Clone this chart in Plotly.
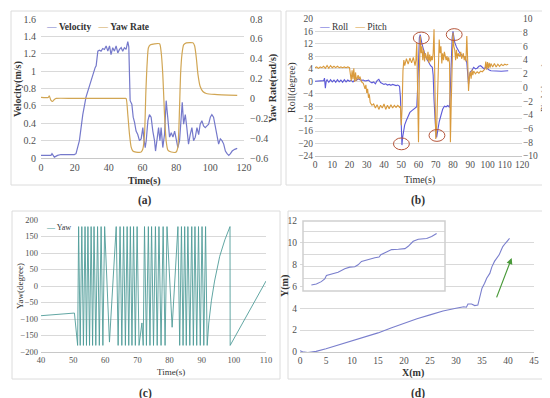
import plotly.graph_objects as go

# ---------------- data ----------------
# (a) velocity / yaw rate
vel_t = [0, 5.9, 6.5, 7.9, 9.8, 11.8, 19.7, 20.7, 22.7, 24.7, 26.6, 28.6, 30.6, 32, 32.6, 33.6, 34.5, 35.5, 36.5, 37.5,
         38.5, 39.5, 40.5, 41.4, 42.4, 43.4, 44.4, 45.4, 46.4, 47.4, 48.3, 49.3, 50.3, 51.3, 51.9, 52.7, 53.7, 54.5,
         55.3, 56.2, 57.2, 58.2, 59.2, 60.2, 60.8, 61.6, 62.2, 63.2, 64.1, 65.1, 66.1, 67.1, 67.7, 68.5, 69.5, 70.3,
         71, 72, 73, 74, 75, 76, 77, 78, 79, 79.9, 80.9, 81.9, 82.9, 83.5, 84.3, 85.3, 86.2, 87.2, 88.2, 89.2, 90.2,
         91.2, 92.2, 93.2, 94.1, 95.1, 96.1, 97.1, 98.1, 99.1, 100.1, 101, 102, 103, 104, 105, 106, 107, 108, 109,
         110, 111, 112, 113, 114.5, 116]
vel_v = [0.03, 0.03, 0.05, 0.01, 0.03, 0.04, 0.04, 0.05, 0.2, 0.5, 0.7, 0.83, 0.96, 1.04, 1.06, 1.23, 1.24, 1.23, 1.26, 1.25,
         1.29, 1.23, 1.29, 1.19, 1.27, 1.23, 1.29, 1.21, 1.25, 1.27, 1.23, 1.27, 1.25, 1.34, 1.28, 0.66, 0.62, 0.47,
         0.41, 0.31, 0.27, 0.2, 0.22, 0.35, 0.22, 0.12, 0.2, 0.43, 0.5, 0.47, 0.31, 0.2, 0.08, 0.2, 0.35, 0.2,
         0.35, 0.12, 0.27, 0.66, 0.39, 0.24, 0.29, 0.24, 0.31, 0.2, 0.12, 0.2, 0.47, 0.64, 0.39, 0.5, 0.35, 0.16, 0.27,
         0.35, 0.2, 0.24, 0.35, 0.27, 0.39, 0.43, 0.37, 0.35, 0.37, 0.39, 0.47, 0.5, 0.47, 0.35, 0.24, 0.16, 0.22, 0.2,
         0.16, 0.08, 0.05, 0.03, 0.05, 0.08, 0.1, 0.11]
yr_t = [0, 4.3, 4.9, 5.9, 6.9, 7.9, 9, 19.7, 49.3, 50.3, 51.3, 52.3, 53.3, 54.3, 56.2, 59.2, 60.2, 61.2, 62, 62.8, 63.5,
        64.7, 67.1, 70.1, 71, 72, 73, 74, 75, 77, 79.9, 80.9, 81.9, 82.5, 83.3, 84.3, 85.9, 89.8, 90.8, 91.8, 92.8,
        94.1, 95.7, 97.7, 102.6, 116]
yr_v = [0.01, 0.01, 0.025, -0.02, -0.03, -0.01, 0, 0, 0, 0, -0.16, -0.36, -0.49, -0.53, -0.54, -0.54, -0.51, -0.36, 0.07,
        0.37, 0.51, 0.54, 0.55, 0.55, 0.47, 0.24, -0.16, -0.43, -0.52, -0.54, -0.54, -0.49, -0.09, 0.24, 0.44, 0.54,
        0.56, 0.56, 0.53, 0.41, 0.24, 0.12, 0.07, 0.05, 0.04, 0.03]

# (b) roll / pitch
roll_t = [0, 2, 4, 5, 5.5, 6, 6.5, 7, 8, 9, 10, 11, 12, 13, 14, 15, 16, 17, 18, 19, 20, 21, 22, 23, 24, 25, 26, 27, 28,
          29, 30, 31, 32, 33, 34, 35, 36, 37, 38, 39, 40, 41, 42, 43, 44, 45, 46, 47, 48, 49, 49.5, 50, 50.4, 50.8,
          51.5, 52, 53, 54, 55, 56, 57, 58, 59, 59.5, 60, 60.5, 61, 61.5, 62, 63, 64, 65, 66, 67, 68, 68.5, 69, 69.5,
          70, 70.5, 71, 72, 73, 74, 75, 76, 77, 78, 78.5, 79, 79.5, 80, 80.5, 81, 82, 83, 84, 85, 86, 87, 88, 88.5,
          89, 89.5, 90, 91, 92, 93, 94, 95, 96, 97, 98, 99, 100, 101, 102, 104, 106, 108, 110, 112]
roll_v = [0, 0, 0, 0.2, 1.0, -2.2, 0, 0.5, -0.3, 0.5, -0.2, 0.4, -0.3, 0.5, -0.2, 0.4, -0.3, 0.5, -0.2, 0.4, 0, 0.3,
          -0.2, 0.4, 0.3, 0.8, 0.5, 0.3, 0.4, 0.1, 0.2, 0.4, -0.2, -0.5, -0.2, -0.8, 0.2, 0.6, -0.4, -0.8, -1.0, -0.8,
          -1.2, -1.0, -1.3, -1.0, -1.2, -1.4, -1.2, -1.6, -5, -17, -20.5, -18, -16, -14, -12.5, -11, -10, -9.5, -9,
          -8.6, -8.2, -2, 8, 14, 15, 13, 12, 10, 8, 7, 6, 5, 4.5, 2, -6, -12, -16, -18, -16, -13, -11, -9, -8, -8.2,
          -7.8, -8.4, -2, 8, 14, 16, 14, 12.5, 11, 10, 9, 8.5, 8, 7.5, 6, 3, -1, 1.5, 3, 3.5, 4.5, 4, 4.2, 4.8, 5,
          4.5, 4, 4.5, 4, 3.6, 3.4, 3.3, 3.3, 3.2, 3.3, 3.4]
pitch_t = [0, 1, 2, 3, 4, 5, 6, 7, 8, 9, 10, 11, 12, 13, 14, 15, 16, 17, 18, 19, 20, 21, 21.5, 22, 22.5, 23, 23.5, 24,
           25, 25.5, 26, 27, 28, 29, 29.5, 30, 30.5, 31, 31.5, 32, 33, 34, 35, 36, 37, 38, 39, 40, 41, 42, 43, 44, 45,
           46, 47, 48, 49, 49.5, 50, 50.5, 51, 51.5, 52, 53, 54, 55, 56, 57, 58, 58.5, 59, 59.5, 60, 60.5, 61, 61.5,
           62, 62.5, 63, 63.5, 64, 65, 65.5, 66, 66.5, 67, 67.5, 68, 68.5, 69, 69.5, 70, 70.5, 71, 71.5, 72, 72.5, 73,
           73.5, 74, 74.5, 75, 76, 76.5, 77, 77.5, 78, 78.5, 79, 79.5, 80, 80.5, 81, 81.5, 82, 82.5, 83, 84, 84.5, 85,
           86, 86.5, 87, 87.5, 88, 88.5, 89, 89.5, 90, 90.5, 91, 91.5, 92, 93, 94, 95, 96, 97, 98, 98.5, 99, 99.5,
           100, 100.5, 101, 101.5, 102, 103, 104, 105, 106, 107, 108, 109, 110, 111, 112]
pitch_v = [2.9, 3.0, 2.8, 3.0, 2.9, 3.1, 2.8, 3.2, 2.8, 3.2, 2.9, 3.1, 2.9, 3.1, 2.9, 3.0, 2.9, 3.0, 2.9, 3.0, 2.9, 1.0,
           2.5, 1.2, 2.8, 0.8, 2.2, 1.0, 1.8, 1.2, 1.6, 0.8, 0.6, -0.2, 0.4, -0.8, -0.2, -1.5, -1.0, -2.2, -2.6, -2.4,
           -3.0, -2.5, -3.2, -2.6, -3.0, -2.4, -3.2, -2.6, -3.1, -2.5, -3.0, -2.6, -2.9, -2.6, -2.9, -2.7, -5.5, -3.0,
           2.5, 4.0, 3.2, 4.2, 3.4, 4.3, 3.6, 4.4, 3.2, 4.0, 6.5, -2, -8.0, 2, 7.5, 5.0, 6.0, 4.0, 5.5, 3.8, 5.0, 4.0,
           5.2, 3.6, 4.8, 3.8, 4.6, 4.0, 5.0, 8.5, 2, -7.5, -6.0, -2.0, 3.0, 7.0, 5.0, 6.0, 3.5, 5.0, 4.0, 5.2, 4.0,
           4.6, 3.8, 4.4, 3.5, -8.0, -2, 6, 8.0, 6.0, 5.5, 4.0, 5.5, 4.2, 5.0, 4.5, 5.2, 4.2, 5.0, 4.0, 4.6, 3.8, 7.5,
           4, -0.5, 1.5, 2.3, 1.3, 2.6, 1.8, 2.4, 2.0, 2.3, 2.1, 2.4, 2.3, 2.5, 2.7, 3.8, 2.6, 3.7, 2.8, 3.6, 2.9, 3.5,
           3.0, 3.5, 3.0, 3.4, 3.1, 3.4, 3.2, 3.4, 3.3, 3.4]
circle_t = [50.1, 61.6, 70.7, 80.7]
circle_v = [-20.1, 13.9, -17.4, 15.0]

# (c) yaw
yaw_t = [40, 45, 50.4, 51.4, 51.7, 52.2, 52.7, 53.2, 53.7, 54.15, 54.6, 55.1, 55.6, 56.05, 56.5, 57.05, 57.6, 58.15,
         58.7, 59.25, 59.8, 61.3, 63.4, 64.0, 64.6, 65.15, 65.7, 66.25, 66.8, 67.3, 67.8, 68.3, 68.8, 69.35, 69.9,
         70.5, 71.4, 71.8, 72.2, 72.8, 73.4, 73.9, 74.4, 75.0, 75.6, 76.15, 76.7, 77.35, 78.0, 78.6, 79.2, 80.8, 82.6,
         83.15, 83.7, 84.2, 84.7, 85.2, 85.7, 86.3, 86.9, 87.4, 87.9, 88.45, 89.0, 89.55, 90.1, 90.65, 91.2, 91.7,
         92.2, 93.0, 94.0, 95.6, 97.2, 98.8, 98.85, 110]
yaw_deg = [-90, -86, -82, -180, 180, -180, 180, -180, 180, -180, 180, -180, 180, -180, 180, -180, 180, -180, 180, -180,
           180, -170, 180, -180, 180, -180, 180, -180, 180, -180, 180, -180, 180, -180, 180, -180, -112, -180, 180,
           -180, 180, -180, 180, -180, 180, -180, 180, -180, 180, -180, 180, -125, 180, -180, 180, -180, 180, -180,
           180, -180, 180, -180, 180, -180, 180, -180, 180, -180, 180, -180, -112, -45, 15, 90, 140, 180, -180, 15]

# (d) trajectory
traj_x = [0, 0.5, 1.5, 3.1, 5, 6.9, 8.5, 10, 12, 15, 17.5, 20, 22.5, 25, 27.5, 30, 31.5, 32, 32.3, 33, 33.6, 34.2,
          34.5, 35, 35.5, 35.9, 36.5, 36.9, 37.4, 37.8, 38.3, 38.7, 39, 39.5, 40, 40.3]
traj_y = [0.12, 0.02, -0.05, 0.06, 0.3, 0.58, 0.8, 1.0, 1.3, 1.75, 2.2, 2.65, 3.05, 3.4, 3.75, 4.0, 4.15, 4.1, 4.4,
          4.4, 4.25, 4.3, 4.8, 5.85, 6.3, 6.76, 7.2, 7.8, 8.3, 8.6, 8.9, 9.35, 9.66, 9.96, 10.3, 10.4]
inset_x = [5.9, 9.4, 12.9, 15.3, 16.5, 20.0, 24.7, 29.4, 32.9, 36.5, 38.8, 41.2, 45.9, 50.6, 53.6, 54.8, 58.8, 62.4,
           67.1, 71.8, 74.1, 77.6, 81.2, 87.1, 90.6, 94.1]
inset_y = [0.43, 0.51, 0.71, 0.94, 1.23, 1.34, 1.51, 1.8, 1.94, 1.97, 2.14, 2.43, 2.6, 2.74, 2.8, 3.0, 3.23, 3.43,
           3.46, 3.51, 3.71, 4.14, 4.31, 4.37, 4.54, 4.8]
arrow_x = [37.7, 40.7]
arrow_y = [4.87, 8.6]

# ---------------- style ----------------
W, H = 550, 398
SERIF = "Liberation Serif, Times New Roman, serif"
C_VEL, C_YR = "#7579cb", "#d1a654"
C_ROLL, C_PITCH = "#5d5ad8", "#d99a3c"
C_YAW, C_TRAJ = "#4f9c98", "#7a7fcd"
GRID = "#d9d9d9"
TICKC = "#505050"
TITLEC = "#333333"


def px(x):
    return x / W


def py(y):
    return 1 - y / H


fig = go.Figure()
fig.add_trace(go.Scatter(x=vel_t, y=vel_v, mode="lines", line=dict(color=C_VEL, width=1.2), xaxis="x", yaxis="y"))
fig.add_trace(go.Scatter(x=yr_t, y=yr_v, mode="lines", line=dict(color=C_YR, width=1.2, shape="spline", smoothing=0.6),
                         xaxis="x", yaxis="y2"))
fig.add_trace(go.Scatter(x=roll_t, y=roll_v, mode="lines", line=dict(color=C_ROLL, width=1.1), xaxis="x2", yaxis="y3"))
fig.add_trace(go.Scatter(x=pitch_t, y=pitch_v, mode="lines", line=dict(color=C_PITCH, width=1.1), xaxis="x2", yaxis="y4"))
fig.add_trace(go.Scatter(x=yaw_t, y=yaw_deg, mode="lines", line=dict(color=C_YAW, width=0.9), xaxis="x3", yaxis="y5"))
fig.add_trace(go.Scatter(x=traj_x, y=traj_y, mode="lines", line=dict(color=C_TRAJ, width=1.1), xaxis="x4", yaxis="y6"))
fig.add_trace(go.Scatter(x=inset_x, y=inset_y, mode="lines", line=dict(color=C_TRAJ, width=1.1), xaxis="x5", yaxis="y7"))


def xax(dom, rng, dtick, anchor, size=10):
    return dict(domain=dom, range=rng, dtick=dtick, anchor=anchor, showgrid=False, zeroline=False,
                showline=True, linecolor="#c8c8c8", linewidth=1, ticks="",
                tickfont=dict(family=SERIF, size=size, color=TICKC), automargin=False, fixedrange=True)


def yax(dom, rng, dtick, anchor, size=10, side="left", grid=True, overlay=None, standoff=0):
    d = dict(range=rng, dtick=dtick, anchor=anchor, showgrid=grid, gridcolor=GRID, gridwidth=1, zeroline=False,
             showline=False, ticks="", tickfont=dict(family=SERIF, size=size, color=TICKC), automargin=False,
             side=side, fixedrange=True, ticklabelstandoff=standoff)
    if overlay:
        d["overlaying"] = overlay
    else:
        d["domain"] = dom
    return d


layout = dict(
    width=W, height=H, margin=dict(l=0, r=0, t=0, b=0), paper_bgcolor="white", plot_bgcolor="white",
    showlegend=False,
    xaxis=xax([px(33), px(236)], [0, 120], 20, "y"),
    yaxis=yax([py(150), py(11)], [0, 1.6], 0.2, "x", standoff=4),
    yaxis2=yax(None, [-0.6, 0.8], 0.2, "x", side="right", grid=False, overlay="y", standoff=5),
    xaxis2=xax([px(307), px(514)], [0, 120], 10, "y3", size=9.5),
    yaxis3=yax([py(148), py(11)], [-24, 20], 4, "x2", size=9.5, standoff=1),
    yaxis4=yax(None, [-10, 10], 2, "x2", size=9.5, side="right", grid=False, overlay="y3"),
    xaxis3=xax([px(33), px(258)], [40, 110], 10, "y5", size=8.5),
    yaxis5=yax([py(344), py(212)], [-200, 200], 50, "x3", size=8.5, standoff=2),
    xaxis4=xax([px(292), px(526)], [0, 45], 5, "y6", size=9.5),
    yaxis6=yax([py(344), py(213)], [0, 12], 2, "x4", size=9.5, standoff=2),
    xaxis5=dict(domain=[px(295), px(437)], range=[0, 100], anchor="y7", showgrid=False, zeroline=False,
                showticklabels=False, showline=False, ticks="", automargin=False, fixedrange=True),
    yaxis7=dict(domain=[py(282), py(213)], range=[0, 5.86], dtick=1, anchor="x5", showgrid=True, gridcolor=GRID,
                zeroline=False, showticklabels=False, showline=False, ticks="", automargin=False, fixedrange=True),
)
fig.update_layout(**layout)

shapes = []
# panel frames
for (x0, y0, x1, y1) in [(3, 3, 273, 177), (278, 3, 548, 177), (4, 203, 272, 371), (280, 203, 540, 371)]:
    shapes.append(dict(type="rect", xref="paper", yref="paper", x0=px(x0), x1=px(x1), y0=py(y1), y1=py(y0),
                       line=dict(color="#dcdcdc", width=1), layer="below"))
# inset frame
shapes.append(dict(type="rect", xref="paper", yref="paper", x0=px(295), x1=px(437), y0=py(283), y1=py(213),
                   line=dict(color="#cfcfcf", width=1.5)))
# red ellipses in (b)
for ct, cv in zip(circle_t, circle_v):
    shapes.append(dict(type="circle", xref="x2", yref="y3", x0=ct - 4.6, x1=ct + 4.6, y0=cv - 1.9, y1=cv + 1.9,
                       line=dict(color="#b5553a", width=1)))
fig.update_layout(shapes=shapes)

ann = []


def label(text, x, y, size=10, bold=False, angle=0):
    ann.append(dict(xref="paper", yref="paper", x=px(x), y=py(y), xanchor="center", yanchor="middle",
                    showarrow=False, textangle=angle, text=f"<b>{text}</b>" if bold else text,
                    font=dict(family=SERIF, size=size, color=TITLEC)))


# axis titles
label("Time(s)", 136, 173, 10, True)
label("Velocity(m/s)", 10, 81, 10, True, -90)
label("Yaw Rate(rad/s)", 265, 81, 10, True, -90)
label("Time(s)", 411, 172, 10)
label("Roll(degree)", 284, 80, 10, False, -90)
label("Pitch(degree)", 536, 80, 9, False, -90)
label("Time(s)", 163, 364, 9)
label("Yaw(degree)", 12, 278, 9, False, -90)
label("X(m)", 405, 365, 10, True)
label("Y(m)", 277, 278, 10, True, -90)

LEGF = dict(family=SERIF, size=9.5, color=TITLEC)
ann.append(dict(xref="paper", yref="paper", x=px(36), y=py(19), xanchor="left", yanchor="middle", showarrow=False,
                text=f'<span style="color:{C_VEL}">—</span> <b>Velocity</b>   '
                     f'<span style="color:{C_YR}">—</span> <b>Yaw Rate</b>', font=LEGF))
ann.append(dict(xref="paper", yref="paper", x=px(309), y=py(19), xanchor="left", yanchor="middle", showarrow=False,
                text=f'<span style="color:{C_ROLL}">—</span> Roll   '
                     f'<span style="color:{C_PITCH}">—</span> Pitch', font=LEGF))
ann.append(dict(xref="paper", yref="paper", x=px(36), y=py(219), xanchor="left", yanchor="middle", showarrow=False,
                text=f'<span style="color:{C_YAW}">—</span> Yaw', font=dict(LEGF, size=8)))
# captions
for lab, cx, cy in [("(a)", 137, 192), ("(b)", 410, 192), ("(c)", 137, 385), ("(d)", 410, 385)]:
    label(lab, cx, cy, 11.5, True)
# green arrow in (d)
ann.append(dict(xref="x4", yref="y6", axref="x4", ayref="y6", x=arrow_x[1], y=arrow_y[1], ax=arrow_x[0],
                ay=arrow_y[0], showarrow=True, arrowhead=2, arrowsize=1, arrowwidth=1.2, arrowcolor="#4a9a3a",
                text=""))
fig.update_layout(annotations=ann)

fig.write_html("out.html")
